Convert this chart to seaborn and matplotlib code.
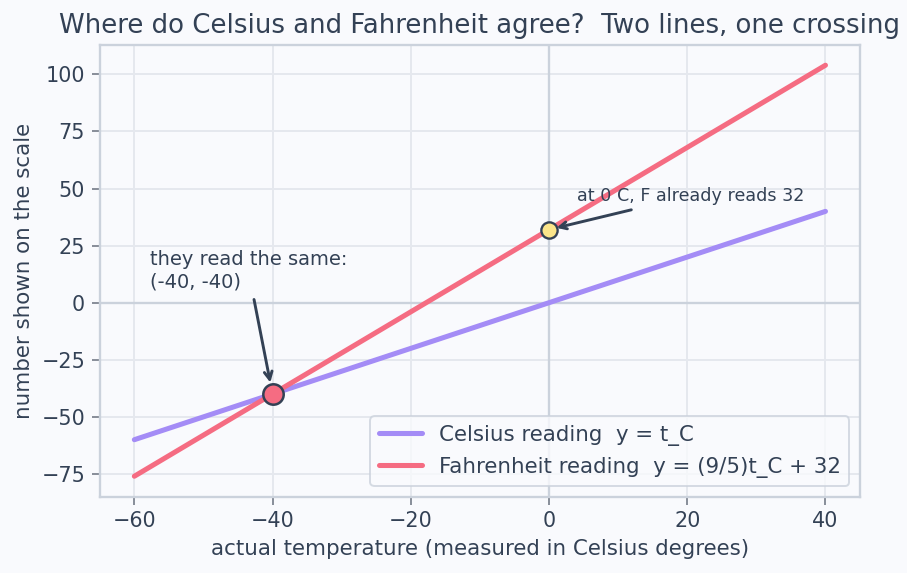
import numpy as np
import pandas as pd
import seaborn as sns
import matplotlib
matplotlib.use("Agg")
import matplotlib.pyplot as plt

# data
temps_c = [-60, 40]
celsius_reading = [-60, 40]
fahrenheit_reading = [-76, 104]
series_names = ["Celsius reading  y = t_C", "Fahrenheit reading  y = (9/5)t_C + 32"]
cross_point = (-40, -40)
freeze_point = (0, 32)

df = pd.DataFrame({
    "t": temps_c + temps_c,
    "y": celsius_reading + fahrenheit_reading,
    "series": [series_names[0]] * len(temps_c) + [series_names[1]] * len(temps_c),
})

BG = "#f9fafd"
TXT = "#334155"
GRID = "#e5e8ee"
SPINE = "#cbd2dc"
PURPLE = "#a48cf6"
RED = "#f56c82"

sns.set_theme(style="whitegrid", rc={
    "figure.facecolor": BG, "axes.facecolor": BG,
    "axes.edgecolor": SPINE, "grid.color": GRID,
    "text.color": TXT, "axes.labelcolor": TXT,
    "xtick.color": TXT, "ytick.color": TXT,
})
plt.rcParams["font.family"] = ["DejaVu Sans"]

fig, ax = plt.subplots(figsize=(6.48, 4.093), dpi=140)
ax.axhline(0, color=SPINE, lw=1.2, zorder=1)
ax.axvline(0, color=SPINE, lw=1.2, zorder=1)

sns.lineplot(data=df, x="t", y="y", hue="series", palette=[PURPLE, RED],
             lw=2.6, ax=ax, zorder=3)

ax.scatter([cross_point[0]], [cross_point[1]], s=110, color=RED,
           edgecolor=TXT, linewidth=1.3, zorder=5)
ax.scatter([freeze_point[0]], [freeze_point[1]], s=70, color="#fbe58a",
           edgecolor=TXT, linewidth=1.2, zorder=5)

ax.annotate("they read the same:\n(-40, -40)", xy=cross_point, xytext=(-43.5, 5),
            ha="center", va="bottom", multialignment="left", fontsize=10, color=TXT,
            arrowprops=dict(arrowstyle="->", color=TXT, lw=1.5, shrinkB=6))
ax.annotate("at 0 C, F already reads 32", xy=freeze_point, xytext=(20.5, 43),
            ha="center", va="bottom", fontsize=9, color=TXT,
            arrowprops=dict(arrowstyle="->", color=TXT, lw=1.5, shrinkB=4))

ax.set_title("Where do Celsius and Fahrenheit agree?  Two lines, one crossing",
             fontsize=13.4, color=TXT)
ax.set_xlabel("actual temperature (measured in Celsius degrees)", fontsize=11)
ax.set_ylabel("number shown on the scale", fontsize=11)
ax.tick_params(labelsize=10.7, length=4, width=0.8, left=True, bottom=True,
               labelcolor=TXT, color="#6b7280")

leg = ax.legend(loc="lower right", fontsize=11, frameon=True, facecolor=BG,
                edgecolor=SPINE, title=None)
for l in leg.get_lines():
    l.set_linewidth(2.6)
for s in ax.spines.values():
    s.set_color(SPINE)
    s.set_linewidth(1.2)

fig.subplots_adjust(left=0.11, right=0.948, top=0.922, bottom=0.133)
fig.savefig("out.png", dpi=140, facecolor=BG)
